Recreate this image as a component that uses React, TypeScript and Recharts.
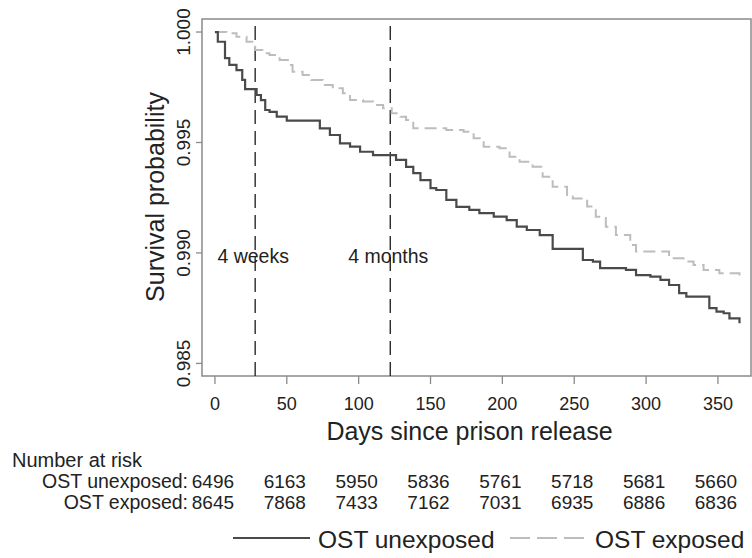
import React from "react";
import {
  LineChart,
  Line,
  XAxis,
  YAxis,
  ReferenceLine,
  ReferenceArea,
} from "recharts";

// ---------- data ----------
const xTicks = [0, 50, 100, 150, 200, 250, 300, 350];
const yTicks = [0.985, 0.99, 0.995, 1.0];

const riskUnexposed = [6496, 6163, 5950, 5836, 5761, 5718, 5681, 5660];
const riskExposed = [8645, 7868, 7433, 7162, 7031, 6935, 6886, 6836];

const seriesNames = ["OST unexposed", "OST exposed"];
const riskRowLabels = ["OST unexposed:", "OST exposed:"];

const unexposedDays = [
  0, 2, 7, 10, 15, 19, 21, 29, 32, 35, 38, 43, 50, 73, 80, 87, 94, 101, 110,
  126, 133, 138, 143, 150, 154, 161, 168, 177, 184, 194, 203, 210, 217, 226,
  235, 256, 263, 268, 286, 293, 303, 310, 316, 323, 328, 344, 349, 354, 358,
  365,
];
const unexposedSurv = [
  1.0, 0.99956, 0.99882, 0.99851, 0.99828, 0.99783, 0.99742, 0.99715, 0.99692,
  0.99647, 0.99639, 0.99617, 0.99599, 0.99564, 0.99534, 0.99496, 0.99481,
  0.99458, 0.99443, 0.99421, 0.9939, 0.99361, 0.9933, 0.99293, 0.99285,
  0.9924, 0.99209, 0.99195, 0.9918, 0.99164, 0.99149, 0.99119, 0.99104,
  0.99081, 0.99018, 0.98968, 0.98961, 0.98931, 0.98923, 0.989, 0.98893,
  0.98878, 0.98855, 0.98818, 0.98802, 0.9875, 0.98734, 0.98727, 0.98704,
  0.98682,
];

const exposedDays = [
  0, 8, 15, 22, 28, 33, 38, 45, 52, 54, 61, 67, 75, 82, 89, 94, 103, 110, 117,
  123, 129, 133, 138, 161, 173, 180, 187, 198, 205, 212, 221, 228, 235, 245,
  249, 259, 265, 272, 279, 289, 293, 316, 326, 333, 340, 351, 365,
];
const exposedSurv = [
  1.0, 0.99994, 0.99979, 0.99956, 0.99919, 0.99904, 0.99896, 0.99873, 0.99851,
  0.9982, 0.99805, 0.99783, 0.9976, 0.99745, 0.99723, 0.99692, 0.99685,
  0.9967, 0.99655, 0.99632, 0.99617, 0.99602, 0.99564, 0.99557, 0.99549,
  0.99519, 0.99481, 0.99474, 0.99436, 0.99413, 0.9939, 0.99345, 0.993,
  0.99255, 0.99247, 0.9921, 0.99164, 0.99119, 0.99081, 0.99036, 0.99006,
  0.98976, 0.98961, 0.98946, 0.98923, 0.98908, 0.98893,
];

const markerDays = [28, 122];
const markerLabels = ["4 weeks", "4 months"];

// ---------- built tables ----------
const unexposedData = unexposedDays.map((d, i) => ({ d, s: unexposedSurv[i] }));
const exposedData = exposedDays.map((d, i) => ({ d, s: exposedSurv[i] }));

const X_DOMAIN: [number, number] = [-9, 373];
const Y_DOMAIN: [number, number] = [0.98443, 1.00059];

const FONT = "'Liberation Sans', Arial, Helvetica, sans-serif";
const TEXT = "#222";
const SOLID = "#4a4a4a";
const DASHED = "#bdbdbd";
const BOX = "#8a8a8a";

function XTick(props: any) {
  const { x, y, payload } = props;
  const idx = xTicks.indexOf(payload.value);
  return (
    <g fontFamily={FONT} fill={TEXT}>
      <text x={x} y={y + 26} textAnchor="middle" fontSize={18} fill={TEXT}>
        {payload.value}
      </text>
      {idx >= 0 && (
        <>
          <text x={x - 2} y={y + 104} textAnchor="middle" fontSize={19} fill={TEXT}>
            {riskUnexposed[idx]}
          </text>
          <text x={x - 2} y={y + 125} textAnchor="middle" fontSize={19} fill={TEXT}>
            {riskExposed[idx]}
          </text>
        </>
      )}
    </g>
  );
}

function YTick(props: any) {
  const { x, y, payload } = props;
  const bx = x - 6;
  return (
    <text
      x={bx}
      y={y}
      transform={`rotate(-90, ${bx}, ${y})`}
      textAnchor="middle"
      fontSize={19}
      fontFamily={FONT}
      fill={TEXT}
    >
      {Number(payload.value).toFixed(3)}
    </text>
  );
}

function XTitle(props: any) {
  const vb = props.viewBox || {};
  const cx = vb.x + vb.width / 2 - 7;
  return (
    <text x={cx} y={440} textAnchor="middle" fontSize={25} fontFamily={FONT} fill={TEXT}>
      Days since prison release
    </text>
  );
}

function YTitle(props: any) {
  const vb = props.viewBox || {};
  const cy = 197;
  const bx = 164;
  return (
    <text
      x={bx}
      y={cy}
      transform={`rotate(-90, ${bx}, ${cy})`}
      textAnchor="middle"
      fontSize={25}
      fontFamily={FONT}
      fill={TEXT}
    >
      Survival probability
    </text>
  );
}

function MarkerLabel(text: string) {
  return (props: any) => {
    const vb = props.viewBox || {};
    return (
      <text
        x={vb.x - 2}
        y={vb.y + 244}
        textAnchor="middle"
        fontSize={19.5}
        fontFamily={FONT}
        fill={TEXT}
      >
        {text}
      </text>
    );
  };
}

export default function App() {
  return (
    <div style={{ position: "absolute", left: 0, top: 0, background: "#fff" }}>
      <LineChart
        width={752}
        height={558}
        margin={{ top: 19, right: 1, left: 0, bottom: 0 }}
      >
        <XAxis
          dataKey="d"
          type="number"
          domain={X_DOMAIN}
          ticks={xTicks}
          allowDataOverflow
          height={182}
          tickSize={8}
          tickMargin={0}
          axisLine={false}
          tickLine={{ stroke: BOX, strokeWidth: 1.3 }}
          tick={<XTick />}
          interval={0}
          label={<XTitle />}
        />
        <YAxis
          dataKey="s"
          type="number"
          domain={Y_DOMAIN}
          ticks={yTicks}
          allowDataOverflow
          width={202}
          tickSize={6}
          tickMargin={0}
          axisLine={false}
          tickLine={{ stroke: BOX, strokeWidth: 1.3 }}
          tick={<YTick />}
          interval={0}
          label={<YTitle />}
        />
        <ReferenceArea
          x1={X_DOMAIN[0]}
          x2={X_DOMAIN[1]}
          y1={Y_DOMAIN[0]}
          y2={Y_DOMAIN[1]}
          fill="none"
          fillOpacity={0}
          stroke={BOX}
          strokeWidth={1.5}
          ifOverflow="visible"
        />
        {markerDays.map((d, i) => (
          <ReferenceLine
            key={d}
            x={d}
            stroke="#2a2a2a"
            strokeWidth={1.4}
            strokeDasharray="14 7"
            label={MarkerLabel(markerLabels[i])}
          />
        ))}
        <Line
          data={exposedData}
          dataKey="s"
          name={seriesNames[1]}
          type="stepAfter"
          stroke={DASHED}
          strokeWidth={2}
          strokeDasharray="12 6"
          dot={false}
          activeDot={false}
          isAnimationActive={false}
        />
        <Line
          data={unexposedData}
          dataKey="s"
          name={seriesNames[0]}
          type="stepAfter"
          stroke={SOLID}
          strokeWidth={2.2}
          dot={false}
          activeDot={false}
          isAnimationActive={false}
        />
        <g fontFamily={FONT} fill={TEXT}>
          <text x={12} y={467} fontSize={20} fill={TEXT}>
            Number at risk
          </text>
          <text x={188} y={488} fontSize={19.5} textAnchor="end" fill={TEXT}>
            {riskRowLabels[0]}
          </text>
          <text x={188} y={509} fontSize={19.5} textAnchor="end" fill={TEXT}>
            {riskRowLabels[1]}
          </text>
          <line x1={233} y1={538} x2={310} y2={538} stroke={SOLID} strokeWidth={2} />
          <text x={318} y={548} fontSize={24.5} fill={TEXT}>
            {seriesNames[0]}
          </text>
          <line
            x1={510}
            y1={538}
            x2={587}
            y2={538}
            stroke={DASHED}
            strokeWidth={2}
            strokeDasharray="20 7"
          />
          <text x={595} y={548} fontSize={24.5} fill={TEXT}>
            {seriesNames[1]}
          </text>
        </g>
      </LineChart>
    </div>
  );
}
